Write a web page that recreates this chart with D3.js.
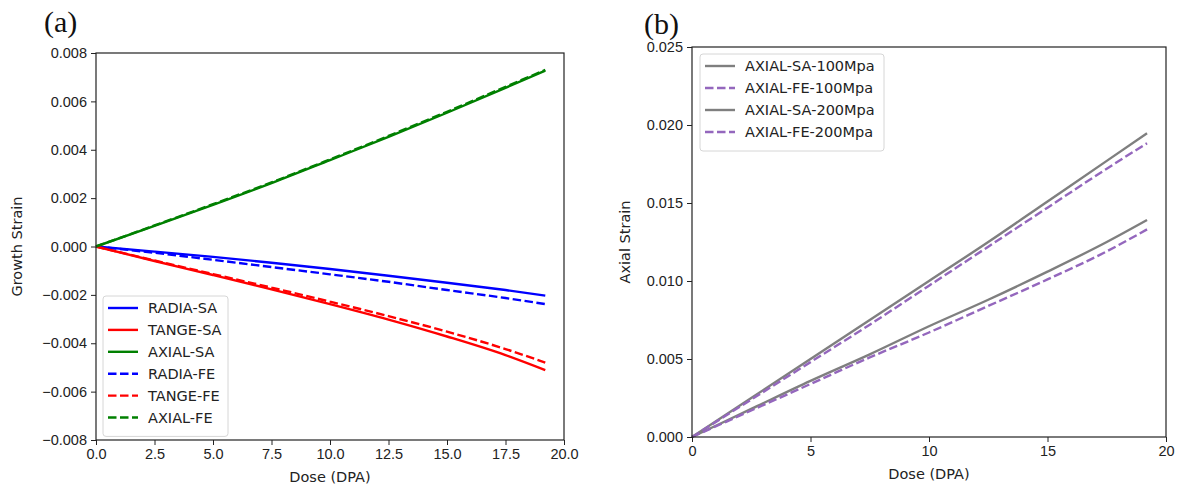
<!DOCTYPE html>
<html>
<head>
<meta charset="utf-8">
<script src="https://cdn.jsdelivr.net/npm/d3@7"></script>
<style>
  body { margin: 0; background: #fff; }
  svg { display: block; font-family: "DejaVu Sans", sans-serif; }
  .tick text { font-size: 14.5px; fill: #222; }
  .tick line { stroke: #222; }
</style>
</head>
<body>
<svg id="chart" width="1178" height="486"></svg>
<script>
// ---- data ----
var dose = [0, 2.5, 5, 7.5, 10, 12.5, 15, 17.5, 19.2];

// panel (a): growth strain
var radiaSA = [0, -0.00021, -0.00043, -0.00067, -0.00093, -0.00121, -0.00150, -0.00180, -0.00203];
var tangeSA = [0, -0.00060, -0.00118, -0.00177, -0.00238, -0.00302, -0.00372, -0.00449, -0.00511];
var axialSA = [0, 0.00085, 0.00172, 0.00262, 0.00357, 0.00453, 0.00553, 0.00656, 0.00727];
var radiaFE = [0, -0.00026, -0.00055, -0.00085, -0.00115, -0.00146, -0.00180, -0.00213, -0.00238];
var tangeFE = [0, -0.00058, -0.00114, -0.00170, -0.00228, -0.00288, -0.00352, -0.00424, -0.00480];
var axialFE = [0, 0.00087, 0.00175, 0.00265, 0.00360, 0.00457, 0.00557, 0.00660, 0.00730];

// panel (b): axial strain under stress
var sa100 = [0, 0.0025, 0.0050, 0.0075, 0.0100, 0.0125, 0.0151, 0.0177, 0.01947];
var fe100 = [0, 0.0024, 0.0048, 0.0072, 0.0097, 0.0122, 0.0147, 0.0172, 0.01883];
var sa200 = [0, 0.0018, 0.0036, 0.0053, 0.0071, 0.0088, 0.0106, 0.0125, 0.01391];
var fe200 = [0, 0.0017, 0.0034, 0.0051, 0.0067, 0.0084, 0.0101, 0.0119, 0.01331];

var ticksA_x = [0, 2.5, 5, 7.5, 10, 12.5, 15, 17.5, 20];
var ticksA_y = [-0.008, -0.006, -0.004, -0.002, 0, 0.002, 0.004, 0.006, 0.008];
var ticksB_x = [0, 5, 10, 15, 20];
var ticksB_y = [0, 0.005, 0.010, 0.015, 0.020, 0.025];

var svg = d3.select('#chart');

function panel(opt) {
  var x = d3.scaleLinear().domain(opt.xDomain).range([opt.left, opt.right]);
  var y = d3.scaleLinear().domain(opt.yDomain).range([opt.bottom, opt.top]);
  var g = svg.append('g');

  var line = d3.line()
    .curve(d3.curveMonotoneX)
    .x(function (d) { return x(d[0]); })
    .y(function (d) { return y(d[1]); });

  var lines = g.append('g');
  opt.series.forEach(function (s) {
    lines.append('path')
      .datum(dose.map(function (v, i) { return [v, s.values[i]]; }))
      .attr('d', line)
      .attr('fill', 'none')
      .attr('stroke', s.color)
      .attr('stroke-width', 2.4)
      .attr('stroke-dasharray', s.dashed ? '8.5,3.5' : null);
  });

  // frame
  g.append('rect')
    .attr('x', opt.left).attr('y', opt.top)
    .attr('width', opt.right - opt.left).attr('height', opt.bottom - opt.top)
    .attr('fill', 'none').attr('stroke', '#222').attr('stroke-width', 1.2);

  g.append('g')
    .attr('transform', 'translate(0,' + opt.bottom + ')')
    .call(d3.axisBottom(x).tickValues(opt.xTicks).tickFormat(d3.format(opt.xFmt))
      .tickSize(5).tickSizeOuter(0).tickPadding(4))
    .call(function (a) { a.select('.domain').remove(); });

  g.append('g')
    .attr('transform', 'translate(' + opt.left + ',0)')
    .call(d3.axisLeft(y).tickValues(opt.yTicks).tickFormat(d3.format('.3f'))
      .tickSize(5).tickSizeOuter(0).tickPadding(4))
    .call(function (a) { a.select('.domain').remove(); });

  // axis titles
  g.append('text')
    .attr('x', (opt.left + opt.right) / 2).attr('y', opt.bottom + 42)
    .attr('text-anchor', 'middle').attr('font-size', 14.5).attr('fill', '#222')
    .text('Dose (DPA)');
  g.append('text')
    .attr('transform', 'translate(' + opt.yLabelX + ',' + (opt.top + opt.bottom) / 2 + ') rotate(-90)')
    .attr('text-anchor', 'middle').attr('font-size', 14.5).attr('fill', '#222')
    .text(opt.yLabel);

  // panel letter
  g.append('text')
    .attr('x', opt.letterX).attr('y', opt.letterY)
    .attr('font-family', '"Liberation Serif", serif').attr('font-size', 30)
    .attr('fill', '#111')
    .text(opt.letter);

  // legend
  var L = opt.legend;
  var lg = g.append('g');
  lg.append('rect')
    .attr('x', L.x).attr('y', L.y).attr('width', L.w)
    .attr('height', opt.series.length * L.step + 9)
    .attr('rx', 3).attr('fill', 'rgba(255,255,255,0.8)')
    .attr('stroke', '#d6d6d6').attr('stroke-width', 1);
  opt.series.forEach(function (s, i) {
    var yy = L.y + 12 + i * L.step;
    lg.append('line')
      .attr('x1', L.x + 5).attr('x2', L.x + 35)
      .attr('y1', yy).attr('y2', yy)
      .attr('stroke', s.color).attr('stroke-width', 2.4)
      .attr('stroke-dasharray', s.dashed ? '8.5,3.5' : null);
    lg.append('text')
      .attr('x', L.x + 45).attr('y', yy + 5)
      .attr('font-size', 14.5).attr('fill', '#222')
      .text(s.name);
  });
}

panel({
  left: 96, right: 564, top: 53, bottom: 440,
  xDomain: [0, 20], yDomain: [-0.008, 0.008],
  xTicks: ticksA_x, yTicks: ticksA_y, xFmt: '.1f',
  yLabel: 'Growth Strain', yLabelX: 22,
  letter: '(a)', letterX: 44, letterY: 32,
  legend: { x: 103, y: 296, w: 125, step: 21.9 },
  series: [
    { name: 'RADIA-SA', values: radiaSA, color: '#0000ff' },
    { name: 'TANGE-SA', values: tangeSA, color: '#ff0000' },
    { name: 'AXIAL-SA', values: axialSA, color: '#008000' },
    { name: 'RADIA-FE', values: radiaFE, color: '#0000ff', dashed: true },
    { name: 'TANGE-FE', values: tangeFE, color: '#ff0000', dashed: true },
    { name: 'AXIAL-FE', values: axialFE, color: '#008000', dashed: true }
  ]
});

panel({
  left: 692, right: 1166, top: 47, bottom: 437,
  xDomain: [0, 20], yDomain: [0, 0.025],
  xTicks: ticksB_x, yTicks: ticksB_y, xFmt: 'd',
  yLabel: 'Axial Strain', yLabelX: 630,
  letter: '(b)', letterX: 644, letterY: 34,
  legend: { x: 700, y: 54, w: 184, step: 22 },
  series: [
    { name: 'AXIAL-SA-100Mpa', values: sa100, color: '#7f7f7f' },
    { name: 'AXIAL-FE-100Mpa', values: fe100, color: '#9467bd', dashed: true },
    { name: 'AXIAL-SA-200Mpa', values: sa200, color: '#7f7f7f' },
    { name: 'AXIAL-FE-200Mpa', values: fe200, color: '#9467bd', dashed: true }
  ]
});
</script>
</body>
</html>
